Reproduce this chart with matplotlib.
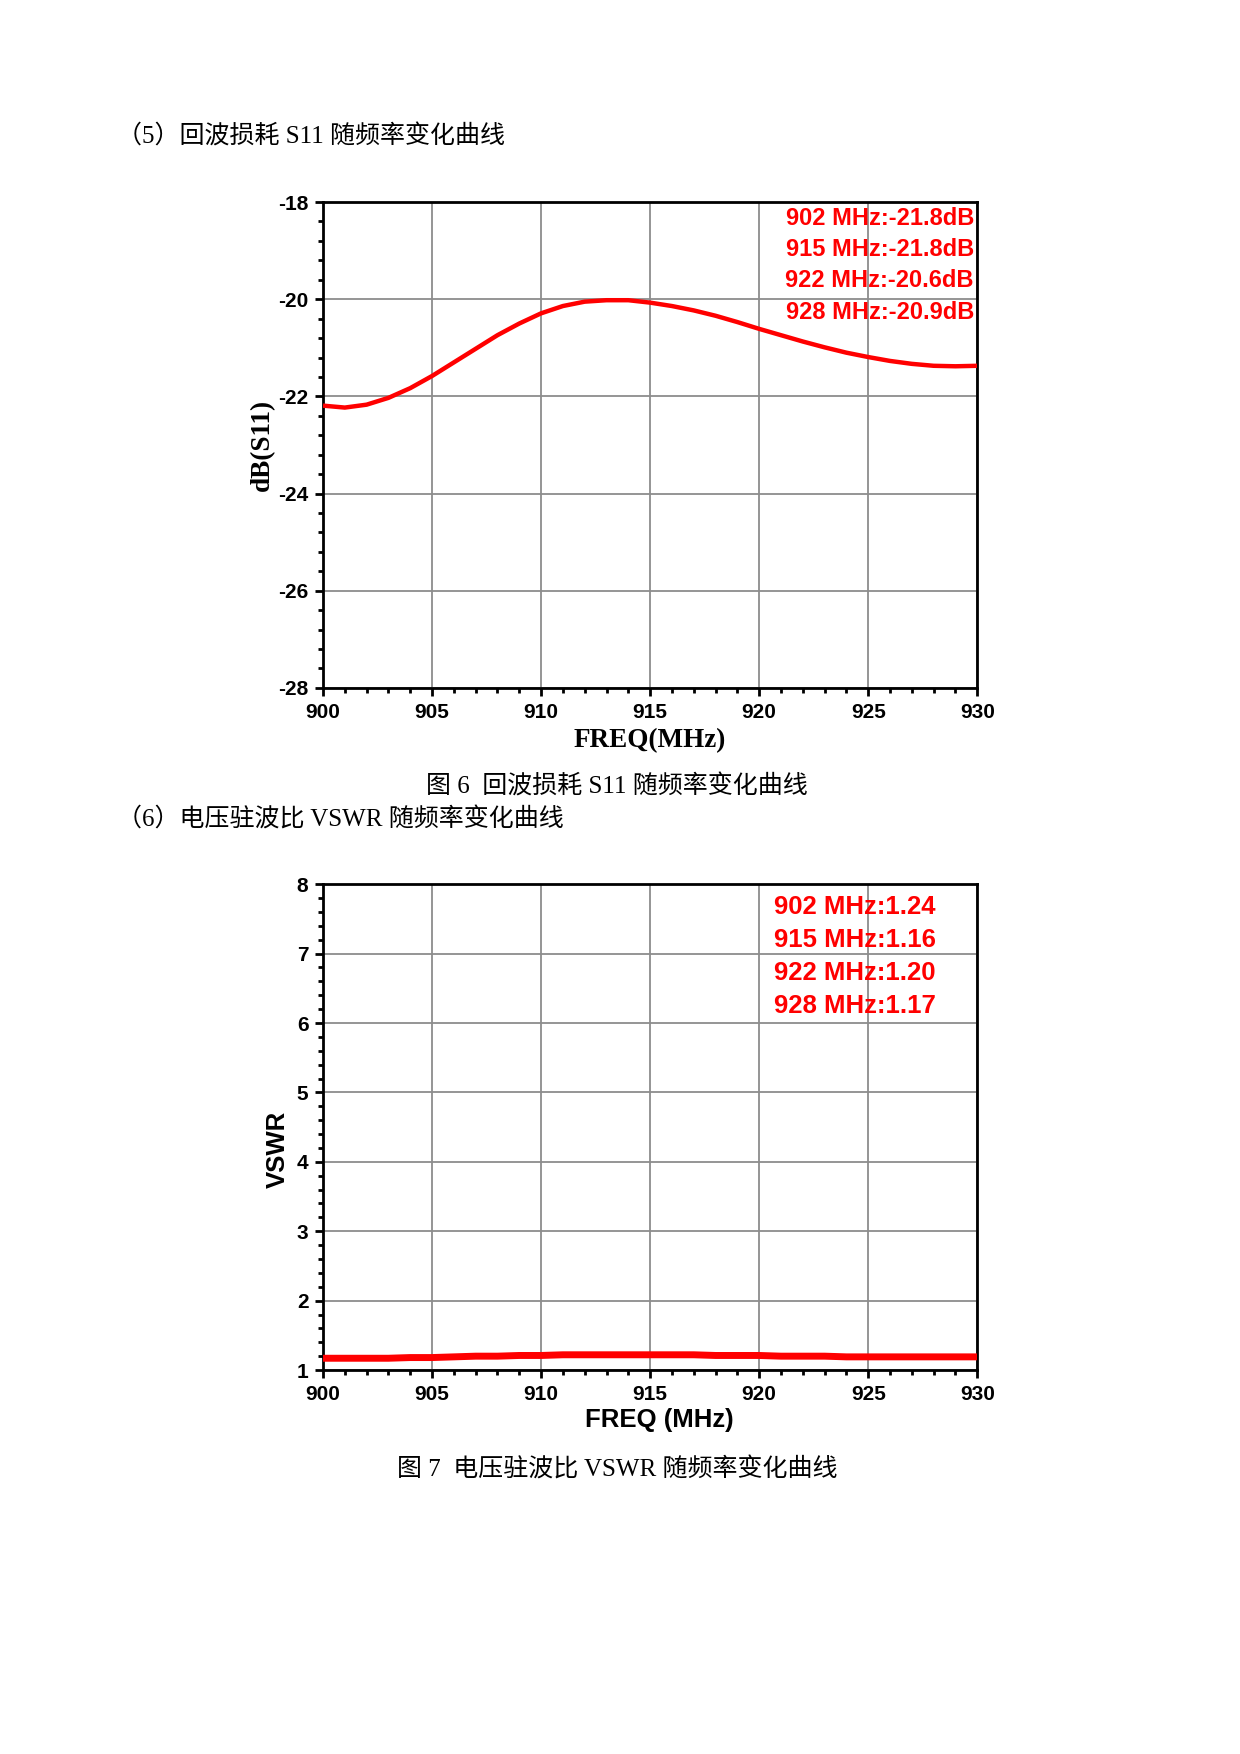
import matplotlib
matplotlib.use('Agg')
import matplotlib.pyplot as plt
from matplotlib.ticker import MultipleLocator

# values
freq_mhz = [900, 901, 902, 903, 904, 905, 906, 907, 908, 909, 910,
            911, 912, 913, 914, 915, 916, 917, 918, 919, 920,
            921, 922, 923, 924, 925, 926, 927, 928, 929, 930]
s11_db = [-22.19, -22.23, -22.17, -22.03, -21.83, -21.58, -21.30, -21.02, -20.74, -20.50, -20.29,
          -20.14, -20.05, -20.02, -20.02, -20.07, -20.14, -20.23, -20.34, -20.47, -20.61,
          -20.74, -20.87, -20.99, -21.10, -21.19, -21.27, -21.33, -21.37, -21.38, -21.37]
vswr = [1.17, 1.17, 1.17, 1.17, 1.18, 1.18, 1.19, 1.20, 1.20, 1.21, 1.21,
        1.22, 1.22, 1.22, 1.22, 1.22, 1.22, 1.22, 1.21, 1.21, 1.21,
        1.20, 1.20, 1.20, 1.19, 1.19, 1.19, 1.19, 1.19, 1.19, 1.19]

s11_notes = ['902 MHz:-21.8dB', '915 MHz:-21.8dB', '922 MHz:-20.6dB', '928 MHz:-20.9dB']
vswr_notes = ['902 MHz:1.24', '915 MHz:1.16', '922 MHz:1.20', '928 MHz:1.17']

heading_5 = '（5）回波损耗 S11 随频率变化曲线'
caption_6 = '图 6  回波损耗 S11 随频率变化曲线'
heading_6 = '（6）电压驻波比 VSWR 随频率变化曲线'
caption_7 = '图 7  电压驻波比 VSWR 随频率变化曲线'

page_font = ['Liberation Serif', 'Noto Sans CJK SC']
sans_font = ['Liberation Sans', 'DejaVu Sans']
serif_font = ['Liberation Serif', 'DejaVu Serif']

plt.rcParams['font.family'] = sans_font
plt.rcParams['axes.unicode_minus'] = False
plt.rcParams['lines.solid_capstyle'] = 'butt'
plt.rcParams['lines.solid_joinstyle'] = 'round'


def style_axes(ax, ymin, ymax, ymajor, yminor):
    ax.set_xlim(900, 930)
    ax.set_ylim(ymin, ymax)
    ax.xaxis.set_major_locator(MultipleLocator(5))
    ax.xaxis.set_minor_locator(MultipleLocator(1))
    ax.yaxis.set_major_locator(MultipleLocator(ymajor))
    ax.yaxis.set_minor_locator(MultipleLocator(yminor))
    ax.grid(True, which='major', color='#8c8c8c', linewidth=1.3)
    ax.set_axisbelow(True)
    for sp in ax.spines.values():
        sp.set_linewidth(2.0)
        sp.set_color('black')
    ax.tick_params(which='major', direction='out', length=6, width=2, pad=4.5,
                   labelsize=15)
    ax.tick_params(which='minor', direction='out', length=3.5, width=2)
    for lab in ax.get_xticklabels() + ax.get_yticklabels():
        lab.set_fontweight('bold')


fig = plt.figure(figsize=(12.4, 17.54), dpi=100)

# ---- figure 6 : S11
ax1 = fig.add_axes([0.2605, 0.6078, 0.5276, 0.277])
ax1.plot(freq_mhz, s11_db, color='#ff0000', linewidth=3.2, zorder=3)
style_axes(ax1, -28, -18, 2, 0.4)
ax1.set_xlabel('FREQ(MHz)', family=serif_font, fontweight='bold', fontsize=19.5, va='center')
ax1.set_ylabel('dB(S11)', family=serif_font, fontweight='bold', fontsize=19.5, va='center')
ax1.xaxis.set_label_coords(0.5, -0.109)
ax1.yaxis.set_label_coords(-0.093, 0.5)
for i, note in enumerate(s11_notes):
    ax1.text(0.995, 0.967 - i * 0.0645, note, transform=ax1.transAxes, ha='right', va='center',
             color='#ff0000', fontsize=17, fontweight='bold')

# ---- figure 7 : VSWR
ax2 = fig.add_axes([0.2605, 0.2189, 0.5276, 0.277])
ax2.plot(freq_mhz, vswr, color='#ff0000', linewidth=5, zorder=3)
style_axes(ax2, 1, 8, 1, 0.2)
ax2.set_xlabel('FREQ (MHz)', fontweight='bold', fontsize=18.5, va='center')
ax2.set_ylabel('VSWR', fontweight='bold', fontsize=18.5, va='center')
ax2.xaxis.set_label_coords(0.514, -0.103)
ax2.yaxis.set_label_coords(-0.069, 0.455)
for i, note in enumerate(vswr_notes):
    ax2.text(0.69, 0.953 - i * 0.068, note, transform=ax2.transAxes, ha='left', va='center',
             color='#ff0000', fontsize=18.5, fontweight='bold')

# ---- page text
fig.text(0.094, 0.9223, heading_5, family=page_font, fontsize=18, va='center', ha='left')
fig.text(0.4976, 0.5515, caption_6, family=page_font, fontsize=18, va='center', ha='center')
fig.text(0.094, 0.5328, heading_6, family=page_font, fontsize=18, va='center', ha='left')
fig.text(0.4976, 0.1623, caption_7, family=page_font, fontsize=18, va='center', ha='center')

fig.savefig('out.png', dpi=100, facecolor='white')
